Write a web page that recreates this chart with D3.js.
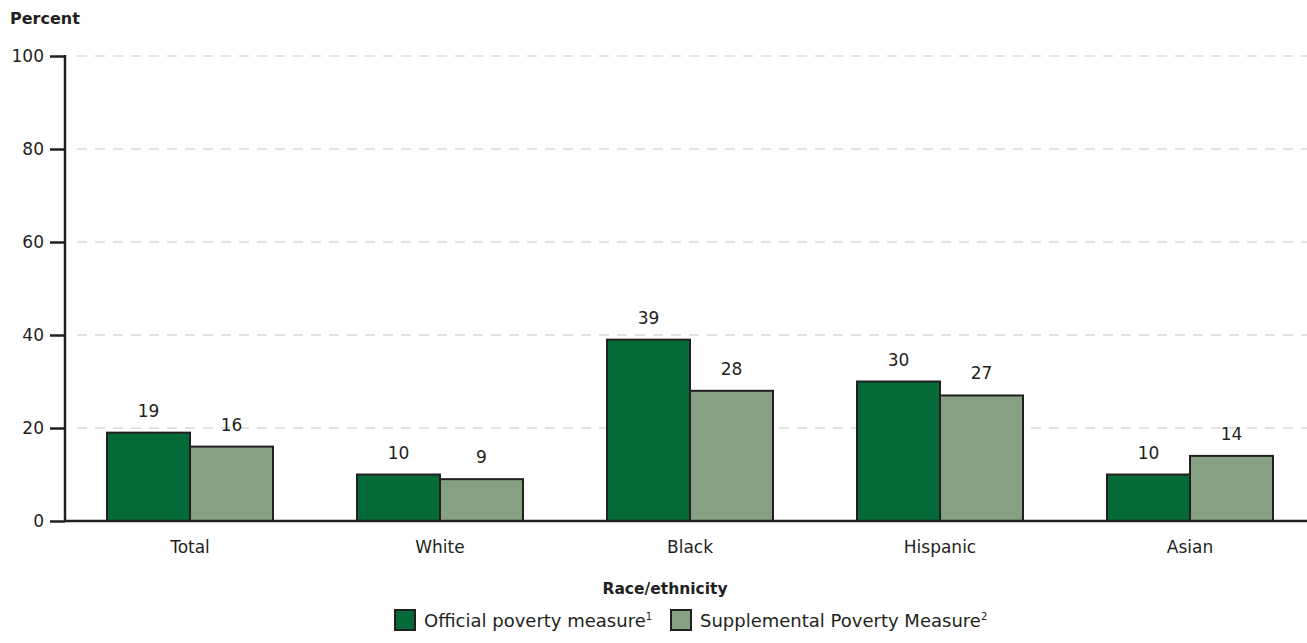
<!DOCTYPE html>
<html><head><meta charset="utf-8">
<script src="https://cdn.jsdelivr.net/npm/d3@7"></script>
<style>body{margin:0;background:#fff}svg{display:block}text{font-family:"DejaVu Sans",sans-serif;fill:#231f20}</style>
</head><body><svg id="c" width="1307" height="643"></svg>
<script>
const categories = ["Total","White","Black","Hispanic","Asian"];
const official = [19,10,39,30,10];
const supplemental = [16,9,28,27,14];
const seriesNames = ["Official poverty measure","Supplemental Poverty Measure"];
const seriesSup = ["1","2"];
const yTicks = [0,20,40,60,80,100];
const colors = ["#046a38","#86a083"];

const svg = d3.select("#c");
const x0 = 65, x1 = 1315, yTop = 56, yBot = 521;
const x = d3.scaleBand().domain(categories).range([x0,x1]).paddingInner(0.336).paddingOuter(0.168);
const xs = d3.scaleBand().domain([0,1]).range([0,x.bandwidth()]);
const y = d3.scaleLinear().domain([0,100]).range([yBot,yTop]);

// grid
svg.append("g").selectAll("line").data(yTicks.filter(d=>d>0)).join("line")
  .attr("x1",x0+12).attr("x2",1307).attr("y1",d=>y(d)).attr("y2",d=>y(d))
  .attr("stroke","#c8c8c8").attr("stroke-width",1.2).attr("stroke-dasharray","10,8");

// y axis
const ya = svg.append("g").attr("transform",`translate(${x0},0)`).call(d3.axisLeft(y).tickValues(yTicks).tickSize(15).tickPadding(6));
ya.select(".domain").remove();
ya.selectAll(".tick line").attr("stroke","#231f20").attr("stroke-width",2.5);
ya.selectAll(".tick text").attr("font-size",17).attr("fill","#231f20").style("font-family","DejaVu Sans");
svg.append("line").attr("x1",x0).attr("x2",x0).attr("y1",yTop-1).attr("y2",yBot+1).attr("stroke","#231f20").attr("stroke-width",2.5);

const data = categories.map((c,i)=>({c,vals:[official[i],supplemental[i]]}));
const g = svg.append("g").selectAll("g").data(data).join("g").attr("transform",d=>`translate(${x(d.c)},0)`);
g.selectAll("rect").data(d=>d.vals.map((v,k)=>({v,k}))).join("rect")
  .attr("x",d=>xs(d.k)).attr("width",xs.bandwidth()).attr("y",d=>y(d.v)).attr("height",d=>y(0)-y(d.v))
  .attr("fill",d=>colors[d.k]).attr("stroke","#231f20").attr("stroke-width",2);
g.selectAll("text.v").data(d=>d.vals.map((v,k)=>({v,k}))).join("text").attr("class","v")
  .attr("x",d=>xs(d.k)+xs.bandwidth()/2).attr("y",d=>y(d.v)-16).attr("text-anchor","middle").attr("font-size",17).text(d=>d.v);

// x axis line
svg.append("line").attr("x1",x0).attr("x2",1307).attr("y1",yBot).attr("y2",yBot).attr("stroke","#231f20").attr("stroke-width",2.5);
svg.append("g").selectAll("text").data(categories).join("text")
  .attr("x",d=>x(d)+x.bandwidth()/2).attr("y",553).attr("text-anchor","middle").attr("font-size",17).text(d=>d);

svg.append("text").attr("x",10).attr("y",24).attr("font-size",16).attr("font-weight","bold").text("Percent");
svg.append("text").attr("x",665).attr("y",594).attr("text-anchor","middle").attr("font-size",15.5).attr("font-weight","bold").text("Race/ethnicity");

// legend
const legX = [394,670];
seriesNames.forEach((n,i)=>{
  svg.append("rect").attr("x",legX[i]+1).attr("y",610).attr("width",20).attr("height",20).attr("fill",colors[i]).attr("stroke","#231f20").attr("stroke-width",2);
  const t = svg.append("text").attr("x",legX[i]+30).attr("y",627).attr("font-size",18).text(n);
  t.append("tspan").attr("dy",-7).attr("font-size",10).text(seriesSup[i]);
});
</script></body></html>
